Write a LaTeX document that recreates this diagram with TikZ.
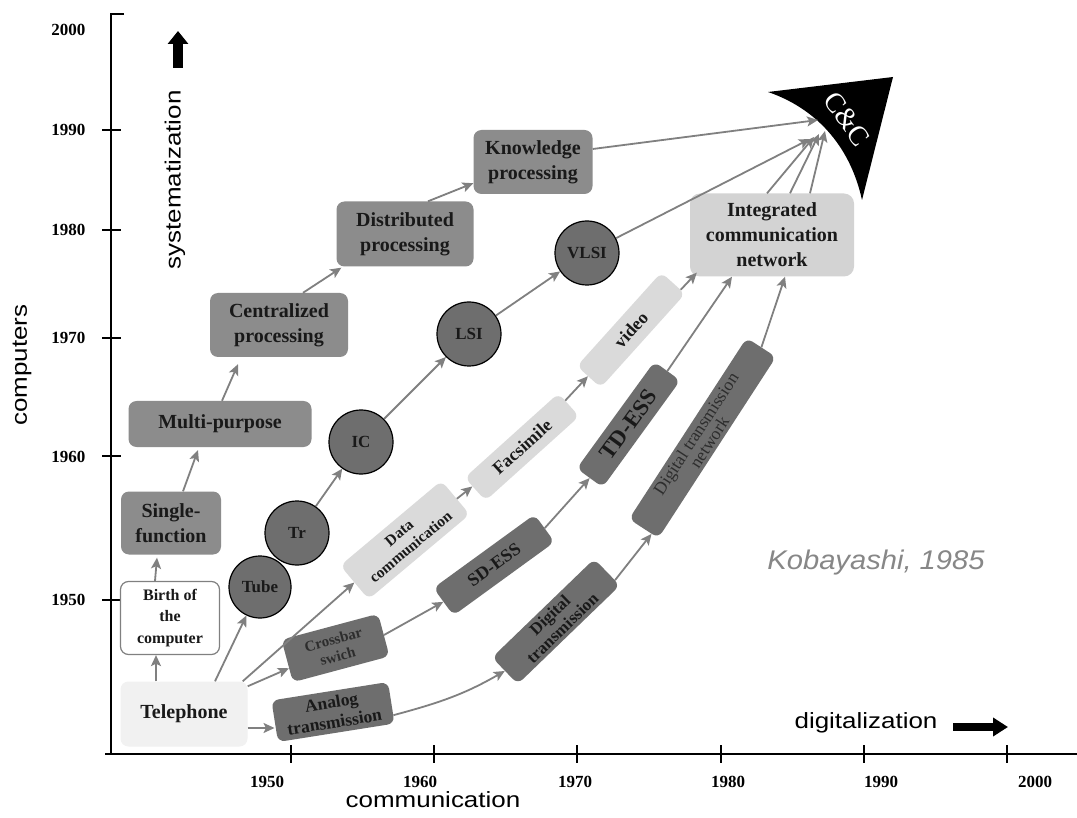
\documentclass[tikz,border=0pt]{standalone}
\usepackage{fontspec}
\setmainfont{Liberation Serif}
\newfontfamily\labfont{Liberation Sans}[FakeStretch=1.18]
\newfontfamily\kobfont{Liberation Sans}[FakeStretch=1.08]
\usetikzlibrary{arrows.meta,calc}
\definecolor{linec}{RGB}{128,128,128}
\definecolor{midg}{RGB}{140,140,140}
\definecolor{darkg}{RGB}{110,110,110}
\definecolor{lightg}{RGB}{218,218,218}
\definecolor{icng}{RGB}{211,211,211}
\definecolor{telg}{RGB}{241,241,241}
\definecolor{kobg}{RGB}{135,135,135}
\definecolor{txtd}{RGB}{25,25,25}
\definecolor{txtm}{RGB}{45,45,45}
\begin{document}
\begin{tikzpicture}[x=1pt,y=-1pt,
  arr/.style={draw=linec,line width=1.8pt,-{Stealth[length=11pt,width=10pt,inset=2.5pt]}},
  cbox/.style={rounded corners=8pt,fill=midg,inner sep=0pt,align=center,text=txtd,font=\bfseries\fontsize{20}{25}\selectfont},
  circ/.style={circle,draw=black,line width=1.2pt,fill=darkg,inner sep=0pt,minimum size=64pt,text=txtd,font=\bfseries\fontsize{17}{19}\selectfont},
  lbox/.style={rounded corners=7pt,fill=lightg,inner sep=0pt,align=center,text=txtd},
  dbox/.style={rounded corners=7pt,fill=darkg,inner sep=0pt,align=center,text=txtd},
  ylab/.style={anchor=east,font=\bfseries\fontsize{17}{19}\selectfont},
  xlab/.style={font=\bfseries\fontsize{17}{19}\selectfont},
  axlab/.style={font=\labfont\fontsize{22}{26}\selectfont},
  axis/.style={draw=black,line width=1.5pt}
]
\useasboundingbox (0,0) rectangle (1077,818);
\fill[white] (0,0) rectangle (1077,818);

% axes
\draw[axis] (124,14) -- (111,14) -- (111,754);
\draw[axis] (105,754) -- (1077,754);
\foreach \yy in {130,230,338,456,600} \draw[axis] (102,\yy) -- (121,\yy);
\foreach \xx in {291,434,577,721,864,1007} \draw[axis] (\xx,745) -- (\xx,763);
\foreach \yy/\lab in {30/2000,130/1990,230/1980,338/1970,457/1960,600/1950}
  \node[ylab] (y\lab) at (89,\yy) {\lab};
\foreach \xx/\lab in {267/1950,420/1960,575/1970,728/1980,881/1990,1035/2000}
  \node[xlab] (x\lab) at (\xx,782) {\lab};

\node[axlab,rotate=90] (comp) at (22,365) {computers};
\node[axlab,rotate=90] (syst) at (175,180) {systematization};
\node[axlab] (commx) at (433,800) {communication};
\node[axlab] (digi) at (866,723) {digitalization};
\node[font=\kobfont\itshape\fontsize{27}{30}\selectfont,text=kobg] (kob) at (876,563) {Kobayashi, 1985};

\draw[line width=10pt,-{Triangle[length=13pt,width=20pt]}] (178,68) -- (178,31);
\draw[line width=8pt,-{Triangle[length=15pt,width=18pt]}] (953,727) -- (1008,727);

% computer column
\node[cbox,minimum width=119pt,minimum height=64pt] (know) at (533,162) {Knowledge\\processing};
\node[cbox,minimum width=137pt,minimum height=65pt] (dist) at (405,234) {Distributed\\processing};
\node[cbox,minimum width=138pt,minimum height=64pt] (cent) at (279,325) {Centralized\\processing};
\node[cbox,minimum width=183pt,minimum height=46pt] (multi) at (220,424) {Multi-purpose};
\node[cbox,minimum width=100pt,minimum height=63pt] (single) at (171,523) {Single-\\function};
\node[cbox,fill=white,draw=linec,line width=1.2pt,minimum width=99pt,minimum height=73pt,font=\bfseries\fontsize{16}{21.5}\selectfont] (birth) at (170,618) {Birth of\\the\\computer};
\node[cbox,fill=telg,minimum width=127pt,minimum height=65pt] (tel) at (184,714) {Telephone};

% devices
\node[circ,minimum size=62pt] (tube) at (260,587) {Tube};
\node[circ] (tr) at (297,533) {Tr};
\node[circ] (ic) at (361,442) {IC};
\node[circ] (lsi) at (469,334) {LSI};
\node[circ] (vlsi) at (587,253) {VLSI};

\node[cbox,fill=icng,rounded corners=10pt,minimum width=164pt,minimum height=83pt] (icn) at (772,235) {Integrated\\communication\\network};

% communication rows
\node[lbox,rotate=40,minimum width=132pt,minimum height=44pt,font=\bfseries\fontsize{15.5}{18}\selectfont] (dc) at (405,540) {Data\\communication};
\node[lbox,rotate=42,minimum width=126pt,minimum height=31pt,font=\bfseries\fontsize{18}{20}\selectfont] (fax) at (522,447) {Facsimile};
\node[lbox,rotate=48,minimum width=126pt,minimum height=32pt,font=\bfseries\fontsize{18}{20}\selectfont] (vid) at (631,330) {video};
\node[dbox,rotate=15,minimum width=100pt,minimum height=44pt,text=txtm,font=\bfseries\fontsize{15}{17}\selectfont] (cb) at (335.5,648) {Crossbar\\swich};
\node[dbox,rotate=9,minimum width=118pt,minimum height=42pt,font=\bfseries\fontsize{17.5}{20}\selectfont] (an) at (333,712) {Analog\\transmission};
\node[dbox,rotate=36,minimum width=125pt,minimum height=34pt,font=\bfseries\fontsize{18}{20}\selectfont] (sd) at (494,565) {SD-ESS};
\node[dbox,rotate=44,minimum width=142pt,minimum height=37pt,font=\bfseries\fontsize{17}{18}\selectfont] (dt) at (556,621.5) {Digital\\transmission};
\node[dbox,rotate=54,minimum width=132pt,minimum height=32pt,font=\bfseries\fontsize{23}{24}\selectfont] (td) at (628.5,424.5) {TD-ESS};
\node[dbox,rotate=57,minimum width=216pt,minimum height=35pt,text=txtm,font=\fontsize{17.5}{16}\selectfont] (dtn) at (702.5,438) {Digital transmission\\network};

% C&C
\fill[black] (768,92) -- (893,77) -- (862,200) .. controls (850,145) and (815,108) .. (768,92) -- cycle;
\node[text=white,rotate=-54,font=\fontsize{28}{30}\selectfont] (cc) at (847,119) {C\&C};
\coordinate (cc1) at (818,120);
\coordinate (cc2) at (810,139);
\coordinate (cc3) at (814,137);
\coordinate (cc4) at (819,134);
\coordinate (cc5) at (825,131);

% connectors
\draw[arr] ([xshift=-28pt]tel.north) -- ([xshift=-14pt]birth.south);
\draw[arr] ([xshift=-15pt]birth.north) -- ([xshift=-14pt,yshift=-3pt]single.south);
\draw[arr] ([xshift=12pt]single.north) -- ([xshift=-22pt,yshift=-3pt]multi.south);
\draw[arr] ([xshift=2pt]multi.north) -- ([xshift=-41pt,yshift=-7pt]cent.south);
\draw[arr] ([xshift=24pt]cent.north) -- ([xshift=5pt,yshift=-1pt]dist.south west);
\draw[arr] ([xshift=23pt]dist.north) -- ([yshift=11pt]know.south west);
\draw[arr] ([yshift=13pt]know.east) -- (cc1);

\draw[arr] ([xshift=31pt]tel.north) -- (tube);
\draw[arr] (tr) -- (ic);
\draw[arr] (ic) -- (lsi);
\draw[arr] (lsi) -- (vlsi);
\draw[arr] (vlsi) -- (cc2);

\draw[arr] ([xshift=-5pt]tel.north east) -- (dc.west);
\draw[arr] (tel) -- (cb);
\coordinate (telA) at ([yshift=-14pt]tel.east);
\draw[arr] (telA) -- (telA -| an.west);

\draw[arr] (dc) -- (fax);
\draw[arr] (fax) -- (vid);
\draw[arr] (vid.-9) -- ([xshift=7pt,yshift=4pt]icn.south west);

\draw[arr] (cb.east) -- (sd.west);
\draw[arr] (sd.east) -- (td.west);
\draw[arr] (td.east) -- ([xshift=-40pt]icn.south);

\draw[arr] (an.-12) to[out=15,in=210] (dt.west);
\draw[arr] (dt.-9) -- (dtn.185);
\draw[arr] (dtn.east) -- ([xshift=13pt]icn.south);

\draw[arr] ([xshift=-5pt]icn.north) -- (cc3);
\draw[arr] ([xshift=18pt]icn.north) -- (cc4);
\draw[arr] ([xshift=38pt]icn.north) -- (cc5);
\end{tikzpicture}
\end{document}
